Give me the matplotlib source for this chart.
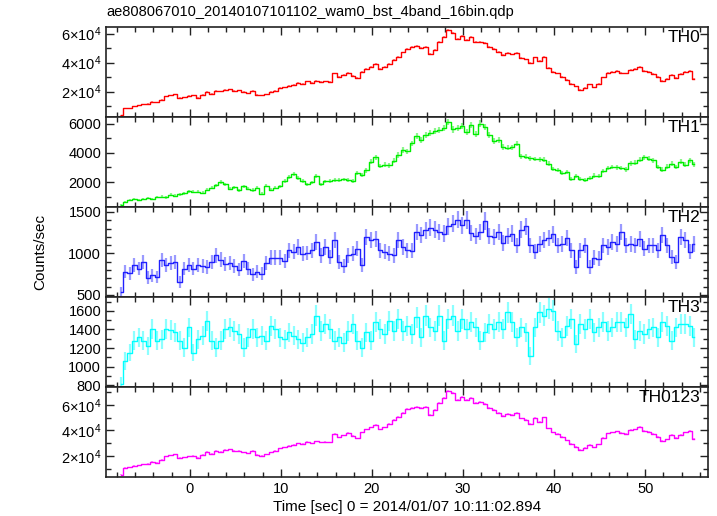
import numpy as np
import matplotlib
matplotlib.use("Agg")
import matplotlib.pyplot as plt
from matplotlib.ticker import MultipleLocator, FuncFormatter

plt.rcParams['font.family'] = ['Liberation Sans', 'DejaVu Sans']
plt.rcParams['mathtext.fontset'] = 'custom'
plt.rcParams['mathtext.rm'] = 'Liberation Sans'
plt.rcParams['mathtext.it'] = 'Liberation Sans:italic'
plt.rcParams['mathtext.bf'] = 'Liberation Sans:bold'

TITLE = "ae808067010_20140107101102_wam0_bst_4band_16bin.qdp"
XLABEL = "Time [sec] 0 = 2014/01/07 10:11:02.894"
YLABEL = "Counts/sec"
BAND_NAMES = ["TH0", "TH1", "TH2", "TH3", "TH0123"]

# bin centres (0.5 s bins) starting at -7.6 s
T0 = -7.6
BIN = 0.5
NBIN = 127
EXPO = 0.125  # effective exposure used for Poisson errors

th0 = [3700, 8400, 8600, 10000, 10500, 11400, 11800, 13000, 12500, 14500,
       16800, 17600, 18200, 15800, 16200, 17000, 17400, 15800, 17800, 20000,
       18500, 20600, 20200, 21300, 21600, 20500, 20800, 19800, 18800, 20600,
       17800, 17400, 18200, 19800, 20600, 22400, 23000, 24000, 24600, 25900,
       25400, 27000, 26000, 27200, 26600, 27000, 26600, 32500, 30000, 31500,
       33000, 31000, 29500, 33500, 35500, 37000, 38800, 35600, 37000, 39200,
       42000, 44000, 47000, 49600, 50500, 51200, 50200, 51000, 45800, 48800,
       54000, 57500, 62500, 60500, 56000, 58300, 55800, 57500, 54200, 54500,
       53200, 50500, 49200, 47200, 45200, 46400, 45600, 46800, 43200, 42200,
       39500, 43500, 41000, 43800, 36300, 33500, 32600, 30200, 28000, 25400,
       23600, 21300, 22600, 25000, 23000, 25200, 29800, 32700, 33500, 34200,
       33000, 32600, 35000, 35600, 37200, 34500, 33800, 32200, 30200, 27500,
       28600, 31600, 29600, 32000, 33600, 34400, 29000]

th1 = [450, 650, 790, 840, 760, 850, 920, 860, 990, 1000,
       960, 1140, 1080, 1180, 1230, 1390, 1350, 1330, 1270, 1470,
       1620, 1780, 2000, 1840, 1560, 1650, 1430, 1720, 1560, 1460,
       1610, 1210, 1760, 1470, 1620, 1720, 2070, 2350, 2580, 2300,
       2100, 1850, 1980, 2390, 1850, 2050, 2080, 2130, 2170, 2180,
       2150, 2090, 2620, 2500, 2800, 3400, 3700, 3100, 3200, 3150,
       3450, 3850, 4200, 4100, 4650, 5130, 4880, 5220, 5360, 5500,
       5560, 5680, 6100, 5600, 5700, 5850, 5450, 5900, 5300, 6000,
       5750, 5200, 4800, 4880, 4400, 4350, 4380, 4630, 3760, 3720,
       3620, 3580, 3560, 3540, 3250, 2880, 2830, 2620, 2700, 2230,
       2400, 2240, 2120, 2300, 2450, 2420, 2780, 2950, 3030, 3000,
       2980, 2870, 3280, 3340, 3520, 3710, 3600, 3500, 3030, 2860,
       3050, 3260, 3030, 3400, 3200, 3480, 3210]

th2 = [536, 777, 760, 857, 817, 897, 709, 737, 717, 918,
       857, 886, 897, 657, 817, 857, 817, 857, 845, 837,
       897, 978, 926, 877, 886, 845, 805, 910, 817, 749,
       777, 757, 886, 950, 950, 950, 905, 1038, 1018, 1078,
       998, 1006, 1038, 1139, 978, 1078, 958, 1159, 897, 845,
       978, 998, 1058, 857, 1199, 1159, 1179, 1038, 1018, 998,
       978, 1159, 1078, 1038, 1030, 1259, 1219, 1279, 1311, 1287,
       1259, 1239, 1327, 1359, 1408, 1339, 1400, 1247, 1207, 1259,
       1392, 1207, 1199, 1259, 1127, 1207, 1239, 1098, 1287, 1327,
       1098, 1018, 1118, 1159, 1191, 1231, 1098, 1118, 1191, 1038,
       837, 1038, 1098, 837, 950, 938, 1098, 1078, 1139, 1118,
       1259, 1098, 1118, 1098, 1179, 1058, 1098, 1098, 1038, 1219,
       1098, 958, 897, 1199, 1159, 1018, 1118]

th3 = [807, 1060, 1151, 1278, 1314, 1278, 1223, 1404, 1278, 1296,
       1404, 1393, 1368, 1278, 1205, 1422, 1151, 1296, 1332, 1495,
       1278, 1205, 1278, 1404, 1422, 1386, 1350, 1205, 1314, 1404,
       1314, 1332, 1278, 1441, 1404, 1314, 1296, 1368, 1332, 1296,
       1259, 1314, 1350, 1549, 1386, 1459, 1404, 1278, 1314, 1259,
       1386, 1459, 1278, 1205, 1368, 1278, 1477, 1404, 1350, 1495,
       1386, 1513, 1386, 1441, 1350, 1531, 1314, 1549, 1422, 1386,
       1549, 1278, 1513, 1549, 1386, 1513, 1404, 1477, 1422, 1278,
       1368, 1459, 1404, 1477, 1404, 1586, 1477, 1314, 1422, 1368,
       1115, 1422, 1586, 1549, 1622, 1604, 1386, 1314, 1441, 1513,
       1241, 1459, 1404, 1513, 1368, 1422, 1477, 1386, 1422, 1477,
       1477, 1422, 1567, 1296, 1386, 1350, 1404, 1422, 1314, 1477,
       1441, 1278, 1422, 1459, 1459, 1441, 1314]

th0123 = [5600, 11000, 11300, 12600, 12800, 13800, 14200, 15600, 15000, 17200,
          19800, 20700, 21400, 18700, 19100, 20000, 20500, 18700, 21000, 23400,
          21700, 24100, 23600, 24900, 25200, 24000, 24300, 23200, 22100, 24100,
          21000, 20500, 21400, 23200, 24100, 26100, 26800, 27900, 28600, 30000,
          29400, 31200, 30100, 31500, 30800, 31200, 30800, 37400, 34600, 36300,
          38000, 35700, 34000, 38500, 40800, 42400, 44500, 40900, 42400, 44900,
          48000, 50300, 53600, 56600, 57600, 58300, 57200, 58100, 52300, 55700,
          61500, 65400, 71000, 68800, 63800, 66300, 63500, 65400, 61700, 62000,
          60600, 57600, 56100, 53900, 51600, 53000, 52100, 53400, 49400, 48300,
          45200, 49700, 46900, 50100, 41700, 38500, 37500, 34800, 32400, 29400,
          27400, 24900, 26300, 29000, 26800, 29200, 34400, 37700, 38500, 39300,
          38000, 37500, 40200, 40900, 42700, 39600, 38900, 37100, 34800, 31800,
          33000, 36400, 34200, 36800, 38600, 39500, 33500]

series = [th0, th1, th2, th3, th0123]
colors = ['#ff0000', '#00ee00', '#2020ff', '#00ffff', '#ff00ff']
ylims = [(2500, 64500), (300, 6450), (475, 1560), (780, 1750), (3800, 73800)]
majors = [20000, 2000, 500, 200, 20000]
minors = [10000, 1000, 100, 100, 10000]

time = T0 + BIN * np.arange(NBIN)

W, H = 717, 516
fig = plt.figure(figsize=(W / 100, H / 100), dpi=100)
axes = fig.subplots(5, 1, sharex=True, gridspec_kw=dict(hspace=0))
fig.subplots_adjust(left=106 / W, right=708 / W, top=1 - 27 / H, bottom=1 - 477 / H)

sci = FuncFormatter(lambda v, p: (r'%d×10$^{4}$' % round(v / 1e4)) if v > 0 else '0')

for i, ax in enumerate(axes):
    v = np.asarray(series[i], dtype=float)
    err = np.sqrt(v / EXPO)
    ax.errorbar(time, v, yerr=err, fmt='none', ecolor=colors[i],
                elinewidth=1.6, alpha=0.45, capsize=0)
    ax.step(time, v, where='mid', color=colors[i], lw=1.0)
    ax.set_ylim(*ylims[i])
    ax.yaxis.set_major_locator(MultipleLocator(majors[i]))
    ax.yaxis.set_minor_locator(MultipleLocator(minors[i]))
    if i in (0, 4):
        ax.yaxis.set_major_formatter(sci)
    ax.xaxis.set_major_locator(MultipleLocator(10))
    ax.xaxis.set_minor_locator(MultipleLocator(2))
    ax.tick_params(which='both', direction='in', top=True, right=True,
                   labelsize=10.5, color='#222222')
    ax.tick_params(which='major', length=6, width=1.0)
    ax.tick_params(which='minor', length=3.5, width=1.0)
    for s in ax.spines.values():
        s.set_linewidth(1.2)
        s.set_color('#222222')
    ax.text(0.988, 0.965, BAND_NAMES[i], transform=ax.transAxes,
            ha='right', va='top', fontsize=12.5)

axes[-1].set_xlim(-9.2, 56.9)
axes[-1].set_xlabel(XLABEL, fontsize=11, labelpad=3)
fig.text(106 / W, 1 - 12 / H, TITLE, ha='left', va='center', fontsize=10.5)
fig.text(40 / W, 1 - 252 / H, YLABEL, rotation=90, ha='center', va='center', fontsize=11)

fig.savefig("out.png", dpi=100)
